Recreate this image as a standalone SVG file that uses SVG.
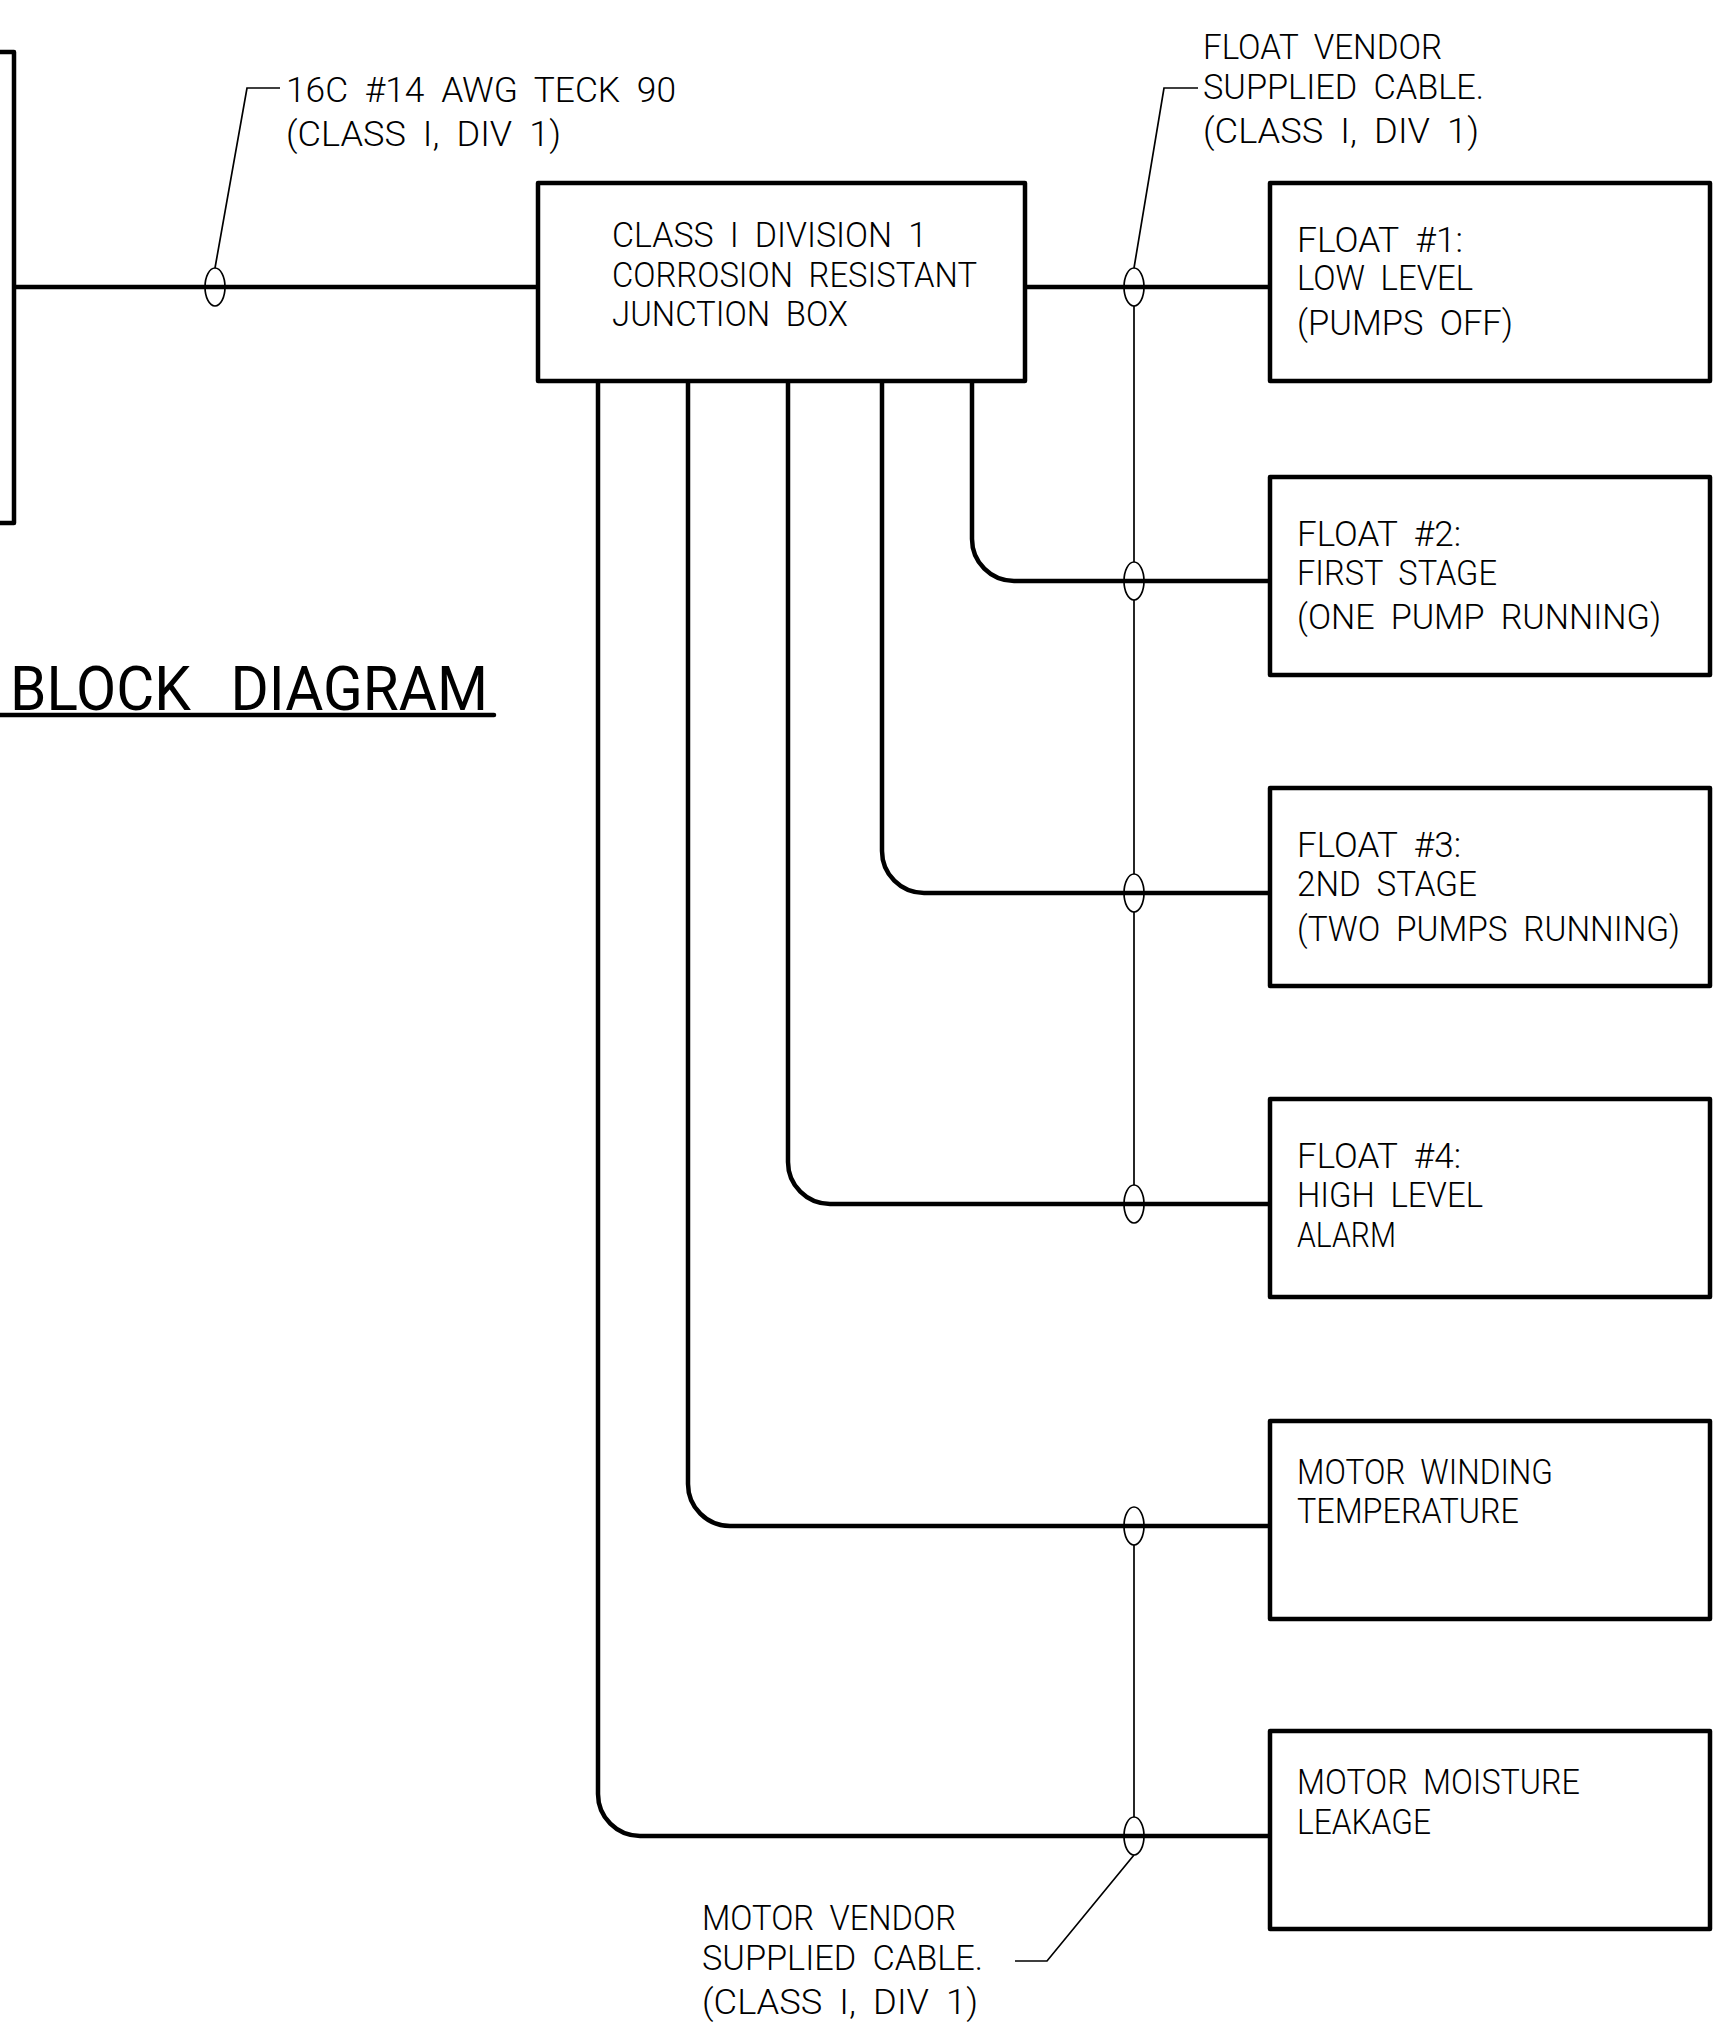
<svg xmlns="http://www.w3.org/2000/svg" width="1736" height="2034" viewBox="0 0 1736 2034">
<style>
.t{font-family:Roboto,"Liberation Sans",Arial,sans-serif;font-weight:300;font-size:35px;fill:#000;word-spacing:8px}
.title{font-family:Roboto,"Liberation Sans",Arial,sans-serif;font-weight:400;font-size:61px;fill:#000;word-spacing:26px}
.box{fill:none;stroke:#000;stroke-width:4.5;stroke-linejoin:round}
.wire{fill:none;stroke:#000;stroke-width:4.5;stroke-linejoin:round}
.thin{fill:none;stroke:#000;stroke-width:1.7}
</style>
<rect x="0" y="0" width="1736" height="2034" fill="#fff"/>

<g id="panel">
  <path class="box" d="M-10 52 H14 V523 H-10"/>
</g>

<g id="title">
  <text class="title" x="10" y="710" textLength="478" lengthAdjust="spacingAndGlyphs">BLOCK DIAGRAM</text>
  <line x1="0" y1="715" x2="494" y2="715" stroke="#000" stroke-width="4.5" stroke-linecap="round"/>
</g>

<g id="junction-box">
  <rect class="box" x="538" y="183" width="487" height="198"/>
  <text class="t" x="612" y="247" textLength="315" lengthAdjust="spacingAndGlyphs">CLASS I DIVISION 1</text>
  <text class="t" x="612" y="287" textLength="365" lengthAdjust="spacingAndGlyphs">CORROSION RESISTANT</text>
  <text class="t" x="612" y="326" textLength="236" lengthAdjust="spacingAndGlyphs">JUNCTION BOX</text>
</g>

<g id="float-1">
  <rect class="box" x="1270" y="183" width="440" height="198"/>
  <text class="t" x="1297" y="252" textLength="166" lengthAdjust="spacingAndGlyphs">FLOAT #1:</text>
  <text class="t" x="1297" y="290" textLength="176" lengthAdjust="spacingAndGlyphs">LOW LEVEL</text>
  <text class="t" x="1297" y="335" textLength="216" lengthAdjust="spacingAndGlyphs">(PUMPS OFF)</text>
</g>

<g id="float-2">
  <rect class="box" x="1270" y="477" width="440" height="198"/>
  <text class="t" x="1297" y="546" textLength="164" lengthAdjust="spacingAndGlyphs">FLOAT #2:</text>
  <text class="t" x="1297" y="585" textLength="200" lengthAdjust="spacingAndGlyphs">FIRST STAGE</text>
  <text class="t" x="1297" y="629" textLength="364" lengthAdjust="spacingAndGlyphs">(ONE PUMP RUNNING)</text>
</g>

<g id="float-3">
  <rect class="box" x="1270" y="788" width="440" height="198"/>
  <text class="t" x="1297" y="857" textLength="164" lengthAdjust="spacingAndGlyphs">FLOAT #3:</text>
  <text class="t" x="1297" y="896" textLength="180" lengthAdjust="spacingAndGlyphs">2ND STAGE</text>
  <text class="t" x="1297" y="941" textLength="383" lengthAdjust="spacingAndGlyphs">(TWO PUMPS RUNNING)</text>
</g>

<g id="float-4">
  <rect class="box" x="1270" y="1099" width="440" height="198"/>
  <text class="t" x="1297" y="1168" textLength="164" lengthAdjust="spacingAndGlyphs">FLOAT #4:</text>
  <text class="t" x="1297" y="1207" textLength="186" lengthAdjust="spacingAndGlyphs">HIGH LEVEL</text>
  <text class="t" x="1297" y="1247" textLength="99" lengthAdjust="spacingAndGlyphs">ALARM</text>
</g>

<g id="motor-winding">
  <rect class="box" x="1270" y="1421" width="440" height="198"/>
  <text class="t" x="1297" y="1484" textLength="256" lengthAdjust="spacingAndGlyphs">MOTOR WINDING</text>
  <text class="t" x="1297" y="1523" textLength="222" lengthAdjust="spacingAndGlyphs">TEMPERATURE</text>
</g>

<g id="motor-moisture">
  <rect class="box" x="1270" y="1731" width="440" height="198"/>
  <text class="t" x="1297" y="1794" textLength="283" lengthAdjust="spacingAndGlyphs">MOTOR MOISTURE</text>
  <text class="t" x="1297" y="1834" textLength="134" lengthAdjust="spacingAndGlyphs">LEAKAGE</text>
</g>

<g id="connectors">
  <path class="wire" d="M14 287 H538"/>
  <path class="wire" d="M1025 287 H1270"/>
  <path class="wire" d="M972 381 V539 A42 42 0 0 0 1014 581 H1270"/>
  <path class="wire" d="M882 381 V851 A42 42 0 0 0 924 893 H1270"/>
  <path class="wire" d="M788 381 V1162 A42 42 0 0 0 830 1204 H1270"/>
  <path class="wire" d="M688 381 V1484 A42 42 0 0 0 730 1526 H1270"/>
  <path class="wire" d="M598 381 V1794 A42 42 0 0 0 640 1836 H1270"/>
  <ellipse class="thin" cx="215" cy="287" rx="10" ry="19"/>
  <ellipse class="thin" cx="1134" cy="287" rx="10" ry="19"/>
  <ellipse class="thin" cx="1134" cy="581" rx="10" ry="19"/>
  <ellipse class="thin" cx="1134" cy="893" rx="10" ry="19"/>
  <ellipse class="thin" cx="1134" cy="1204" rx="10" ry="19"/>
  <ellipse class="thin" cx="1134" cy="1526" rx="10" ry="19"/>
  <ellipse class="thin" cx="1134" cy="1836" rx="10" ry="19"/>
  <path class="thin" d="M1134 306 V562 M1134 600 V874 M1134 912 V1185"/>
  <path class="thin" d="M1134 1545 V1817"/>
  <path class="thin" d="M215 268 L247 88 H280"/>
  <path class="thin" d="M1134 268 L1164 88 H1198"/>
  <path class="thin" d="M1134 1855 L1047 1961 H1015"/>
</g>

<g id="label-teck">
  <text class="t" x="286" y="102" textLength="390" lengthAdjust="spacingAndGlyphs">16C #14 AWG TECK 90</text>
  <text class="t" x="286" y="146" textLength="275" lengthAdjust="spacingAndGlyphs">(CLASS I, DIV 1)</text>
</g>

<g id="label-float-cable">
  <text class="t" x="1203" y="59" textLength="239" lengthAdjust="spacingAndGlyphs">FLOAT VENDOR</text>
  <text class="t" x="1203" y="99" textLength="281" lengthAdjust="spacingAndGlyphs">SUPPLIED CABLE.</text>
  <text class="t" x="1203" y="143" textLength="276" lengthAdjust="spacingAndGlyphs">(CLASS I, DIV 1)</text>
</g>

<g id="label-motor-cable">
  <text class="t" x="702" y="1930" textLength="254" lengthAdjust="spacingAndGlyphs">MOTOR VENDOR</text>
  <text class="t" x="702" y="1970" textLength="281" lengthAdjust="spacingAndGlyphs">SUPPLIED CABLE.</text>
  <text class="t" x="702" y="2014" textLength="276" lengthAdjust="spacingAndGlyphs">(CLASS I, DIV 1)</text>
</g>
</svg>
